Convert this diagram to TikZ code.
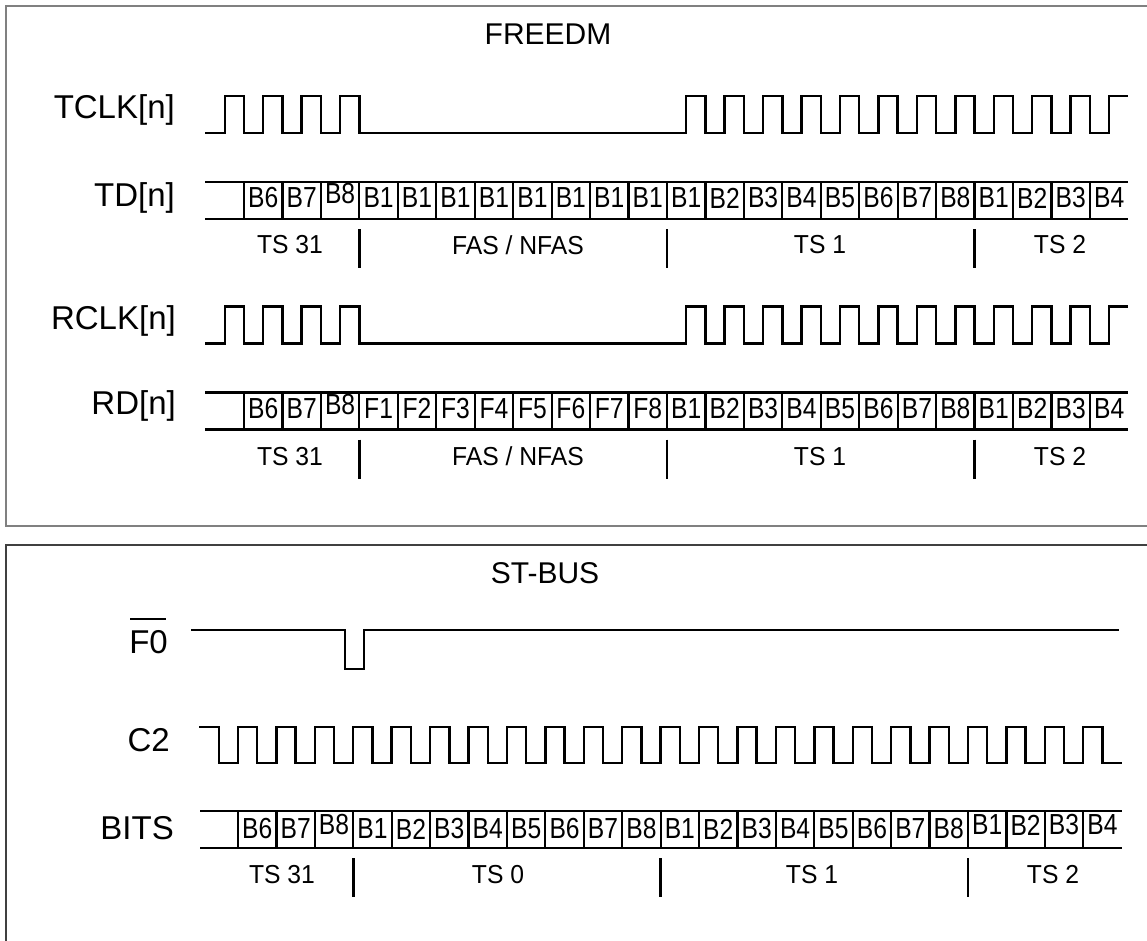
\documentclass[tikz,border=0pt]{standalone}
\usepackage{fontspec}
\setmainfont{Liberation Sans}
\newfontfamily\cellfont[FakeStretch=0.85]{Liberation Sans}
\newfontfamily\tsfont[FakeStretch=0.95]{Liberation Sans}
\begin{document}
\begin{tikzpicture}[x=1pt,y=-1pt,
  wave/.style={line width=2.4pt, line join=miter},
  gridline/.style={line width=2.2pt},
  divider/.style={line width=2.5pt},
  siglabel/.style={anchor=east, inner sep=0pt, font=\fontsize{33}{38}\selectfont},
  titletext/.style={inner sep=0pt, font=\fontsize{30}{34}\selectfont},
  bitlabel/.style={inner sep=0pt, font=\cellfont\fontsize{29}{31}\selectfont},
  tslabel/.style={inner sep=0pt, font=\tsfont\fontsize{26}{29}\selectfont}]
\useasboundingbox (0,0) rectangle (1147,940);
\def\xo{244}
\def\w{38.45}
\def\xb{238}
\def\wb{38.42}
% frames
\draw[line width=1.6pt, draw=black!50] (6,6) rectangle (1170,526);
\draw[line width=1.3pt, draw=black!75] (6,545) rectangle (1170,980);
% titles
\node[titletext] (freedm) at (548,34) {FREEDM};
\node[titletext] (stbus) at (545,573) {ST-BUS};
% ---------------- FREEDM section ----------------
\node[siglabel] (tclk) at (175,110) {TCLK[n]};
\node[siglabel] (td) at (175,198) {TD[n]};
\node[siglabel] (rclk) at (176,321) {RCLK[n]};
\node[siglabel] (rd) at (176,406) {RD[n]};
% TCLK and RCLK
\foreach \yo/\nm in {0/t,210.5/r}{
  \draw[wave] (205,133+\yo)
    \foreach \k in {-1,...,2}{ -| ({\xo+(\k+0.5)*\w},96+\yo) -| ({\xo+(\k+1)*\w},133+\yo) }
    \foreach \k in {11,...,21}{ -| ({\xo+(\k+0.5)*\w},96+\yo) -| ({\xo+(\k+1)*\w},133+\yo) }
    -| ({\xo+22.5*\w},96+\yo) -- ({\xo+23*\w},96+\yo);
}
% TD / RD rows
\foreach \yo in {0,210.5}{
  \draw[gridline] (205,182+\yo) -- ({\xo+23*\w},182+\yo);
  \draw[gridline] (205,219+\yo) -- ({\xo+23*\w},219+\yo);
  \foreach \k in {0,...,22}
    \draw[gridline] ({\xo+\k*\w},182+\yo) -- ({\xo+\k*\w},219+\yo);
  \foreach \k in {3,11,19}
    \draw[divider] ({\xo+\k*\w},229+\yo) -- ({\xo+\k*\w},268+\yo);
}
\foreach \lab/\r [count=\k from 0] in {B6/0,B7/0,B8/4,B1/0,B1/0,B1/0,B1/0,B1/0,B1/0,B1/0,B1/0,B1/0,B2/0,B3/0,B4/0,B5/0,B6/0,B7/0,B8/0,B1/0,B2/0,B3/0,B4/0}
  \node[bitlabel] (td\k) at ({\xo+(\k+0.5)*\w},198-\r) {\lab};
\foreach \lab/\r [count=\k from 0] in {B6/0,B7/0,B8/4,F1/0,F2/0,F3/0,F4/0,F5/0,F6/0,F7/0,F8/0,B1/0,B2/0,B3/0,B4/0,B5/0,B6/0,B7/0,B8/0,B1/0,B2/0,B3/0,B4/0}
  \node[bitlabel] (rd\k) at ({\xo+(\k+0.5)*\w},408.5-\r) {\lab};
\foreach \yo/\nm in {0/t,211.5/r}{
  \node[tslabel] (\nm ts31) at (290,245+\yo) {TS 31};
  \node[tslabel] (\nm fas) at (518,245+\yo) {FAS / NFAS};
  \node[tslabel] (\nm ts1) at (820,245+\yo) {TS 1};
  \node[tslabel] (\nm ts2) at (1060,245+\yo) {TS 2};
}
% ---------------- ST-BUS section ----------------
\node[siglabel] (f0) at (168,642) {F0};
\draw[line width=2.2pt] ([xshift=1pt,yshift=11pt]f0.north west) -- ([xshift=-2pt,yshift=11pt]f0.north east);
\node[siglabel] (c2) at (170,740) {C2};
\node[siglabel] (bits) at (174,828) {BITS};
% F0 waveform
\draw[wave] (191,630) -- (345,630) -- (345,669) -- (364,669) -- (364,630) -- (1119,630);
% C2 waveform
\draw[wave] (199,727) -| ({\xb-0.5*\wb},763)
  \foreach \k in {0,...,22}{ -| ({\xb+\k*\wb},727) -| ({\xb+(\k+0.5)*\wb},763) }
  -- ({\xb+23*\wb},763);
% BITS row
\draw[gridline] (200,811) -- ({\xb+23*\wb},811);
\draw[gridline] (200,848) -- ({\xb+23*\wb},848);
\foreach \k in {0,...,22}
  \draw[gridline] ({\xb+\k*\wb},811) -- ({\xb+\k*\wb},848);
\foreach \k in {3,11,19}
  \draw[divider] ({\xb+\k*\wb},858) -- ({\xb+\k*\wb},897);
\foreach \lab/\r [count=\k from 0] in {B6/0,B7/0,B8/4,B1/0,B2/0,B3/0,B4/0,B5/0,B6/0,B7/0,B8/0,B1/0,B2/0,B3/0,B4/0,B5/0,B6/0,B7/0,B8/0,B1/4,B2/4,B3/4,B4/4}
  \node[bitlabel] (bt\k) at ({\xb+(\k+0.5)*\wb},829-\r) {\lab};
\node[tslabel] (bts31) at (282,875) {TS 31};
\node[tslabel] (bts0) at (498,875) {TS 0};
\node[tslabel] (bts1) at (812,875) {TS 1};
\node[tslabel] (bts2) at (1053,875) {TS 2};
\end{tikzpicture}
\end{document}
